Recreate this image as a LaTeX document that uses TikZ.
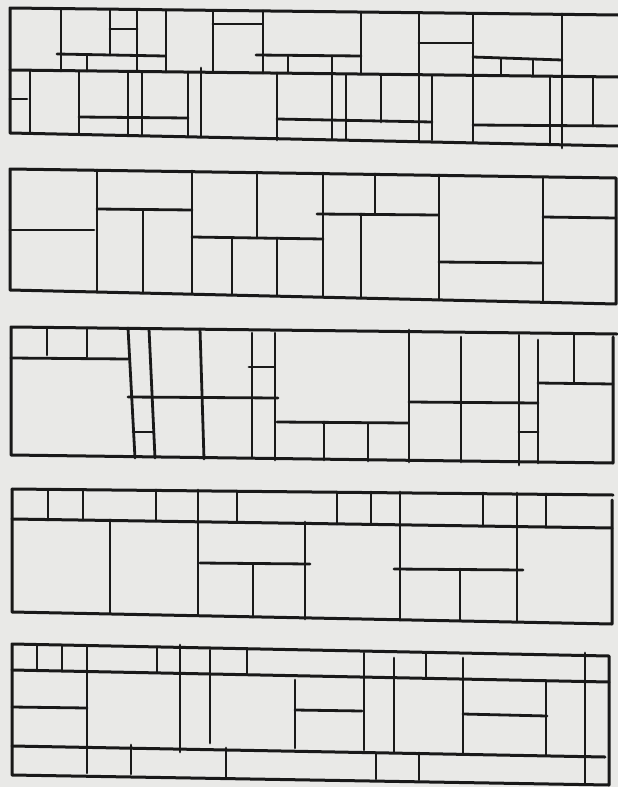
\documentclass[tikz,border=0pt]{standalone}
\usetikzlibrary{backgrounds}

\definecolor{paper}{RGB}{233,233,231}
\definecolor{ink}{RGB}{25,25,25}

\begin{document}
\begin{tikzpicture}[
    x=1pt, y=-1pt,
    wall/.style={draw=ink, line width=2.8pt, line cap=round, line join=round},
    frame/.style={wall, line width=3pt}
]

% Paper
\fill[paper] (0,0) rectangle (618,787);
\useasboundingbox (0,0) rectangle (618,787);

% Panel 1
\draw[frame] (618,15) -- (10,8) -- (10,133) -- (618,146);
\draw[frame] (10,70) -- (618,77);
\draw[wall] (61,9) -- (61,71);
\draw[wall] (57,54) -- (165,56);
\draw[wall] (87,55) -- (87,71);
\draw[wall] (110,10) -- (110,55);
\draw[wall] (110,29) -- (137,29);
\draw[wall] (137,10) -- (137,71);
\draw[wall] (166,10) -- (166,72);
\draw[wall] (213,11) -- (213,72);
\draw[wall] (213,24) -- (262,24);
\draw[wall] (263,11) -- (263,73);
\draw[wall] (256,55) -- (361,56);
\draw[wall] (288,56) -- (288,73);
\draw[wall] (332,56) -- (332,139);
\draw[wall] (361,12) -- (361,74);
\draw[wall] (419,13) -- (419,141);
\draw[wall] (419,43) -- (473,43);
\draw[wall] (473,14) -- (473,142);
\draw[wall] (473,57) -- (562,60);
\draw[wall] (501,59) -- (501,75);
\draw[wall] (533,60) -- (533,76);
\draw[wall] (562,14) -- (562,148);
\draw[wall] (10,99) -- (27,99);
\draw[wall] (30,71) -- (30,133);
\draw[wall] (79,71) -- (79,134);
\draw[wall] (79,117) -- (188,118);
\draw[wall] (128,72) -- (128,135);
\draw[wall] (142,72) -- (142,135);
\draw[wall] (188,72) -- (188,136);
\draw[wall] (201,68) -- (201,137);
\draw[wall] (277,73) -- (277,140);
\draw[wall] (277,119) -- (432,122);
\draw[wall] (346,75) -- (346,139);
\draw[wall] (381,76) -- (381,122);
\draw[wall] (432,76) -- (432,140);
\draw[wall] (473,125) -- (618,126);
\draw[wall] (550,77) -- (550,143);
\draw[wall] (593,78) -- (593,126);

% Panel 2
\draw[frame] (10,169) -- (616,178) -- (616,304) -- (10,290) -- cycle;
\draw[wall] (10,230) -- (94,230);
\draw[wall] (97,170) -- (97,292);
\draw[wall] (97,209) -- (192,210);
\draw[wall] (143,210) -- (143,293);
\draw[wall] (192,171) -- (192,294);
\draw[wall] (257,172) -- (257,238);
\draw[wall] (192,237) -- (323,239);
\draw[wall] (232,238) -- (232,295);
\draw[wall] (277,238) -- (277,296);
\draw[wall] (323,173) -- (323,297);
\draw[wall] (317,214) -- (438,215);
\draw[wall] (375,174) -- (375,214);
\draw[wall] (361,214) -- (361,298);
\draw[wall] (439,175) -- (439,300);
\draw[wall] (439,262) -- (543,263);
\draw[wall] (543,177) -- (543,302);
\draw[wall] (543,217) -- (616,218);

% Panel 3
\draw[frame] (617,334) -- (11,327) -- (11,455) -- (613,463) -- (613,337);
\draw[wall] (47,328) -- (47,355);
\draw[wall] (87,328) -- (87,357);
\draw[wall] (11,358) -- (128,359);
\draw[wall] (128,328) -- (135,458);
\draw[wall] (149,329) -- (155,458);
\draw[wall] (133,432) -- (153,432);
\draw[wall] (128,397) -- (278,398);
\draw[wall] (200,329) -- (204,459);
\draw[wall] (252,333) -- (252,458);
\draw[wall] (249,367) -- (274,367);
\draw[wall] (275,333) -- (275,460);
\draw[wall] (277,422) -- (408,423);
\draw[wall] (324,422) -- (324,460);
\draw[wall] (368,424) -- (368,461);
\draw[wall] (409,330) -- (409,462);
\draw[wall] (409,402) -- (538,403);
\draw[wall] (461,337) -- (461,462);
\draw[wall] (519,335) -- (519,465);
\draw[wall] (519,432) -- (538,432);
\draw[wall] (538,340) -- (538,463);
\draw[wall] (538,383) -- (613,384);
\draw[wall] (574,335) -- (574,382);

% Panel 4
\draw[frame] (12,489) -- (613,495);
\draw[frame] (612,500) -- (612,624) -- (12,612) -- (12,489);
\draw[frame] (12,519) -- (612,528);
\foreach \px/\pt/\pb in {48/490/520, 83/490/520, 156/490/521, 237/491/522,
                         337/492/524, 371/492/524, 483/493/526, 546/494/527}
    \draw[wall] (\px,\pt) -- (\px,\pb);
\draw[wall] (198,490) -- (198,615);
\draw[wall] (400,492) -- (400,620);
\draw[wall] (517,493) -- (517,622);
\draw[wall] (110,520) -- (110,613);
\draw[wall] (305,522) -- (305,619);
\draw[wall] (200,563) -- (310,564);
\draw[wall] (253,564) -- (253,617);
\draw[wall] (394,569) -- (523,570);
\draw[wall] (460,569) -- (460,621);

% Panel 5
\draw[frame] (12,644) -- (609,656) -- (609,785) -- (12,775) -- cycle;
\draw[frame] (12,670) -- (609,682);
\draw[frame] (12,746) -- (605,757);
\foreach \px/\pt/\pb in {37/645/670, 62/645/671, 157/647/672, 247/649/674, 426/653/677}
    \draw[wall] (\px,\pt) -- (\px,\pb);
\draw[wall] (87,646) -- (87,773);
\draw[wall] (585,653) -- (585,783);
\draw[wall] (180,645) -- (180,752);
\draw[wall] (210,650) -- (210,743);
\draw[wall] (364,653) -- (364,750);
\draw[wall] (394,658) -- (394,752);
\draw[wall] (463,658) -- (463,753);
\draw[wall] (12,707) -- (87,708);
\draw[wall] (295,680) -- (295,748);
\draw[wall] (295,710) -- (362,711);
\draw[wall] (463,714) -- (547,716);
\draw[wall] (546,682) -- (546,755);
\draw[wall] (131,745) -- (131,774);
\draw[wall] (226,748) -- (226,777);
\draw[wall] (376,753) -- (376,779);
\draw[wall] (419,753) -- (419,780);

\end{tikzpicture}
\end{document}
